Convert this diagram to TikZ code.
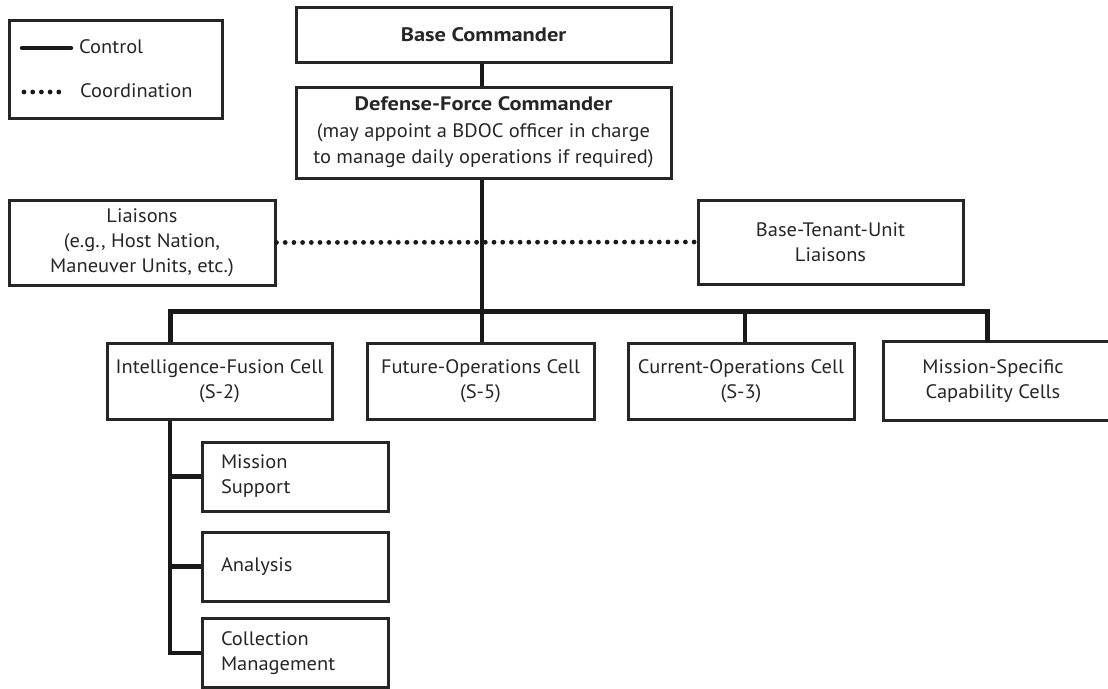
\documentclass[tikz,border=0pt]{standalone}
\usepackage{fontspec}
\setmainfont{PT Sans}[FakeStretch=1.05, BoldFeatures={FakeStretch=1.15}]
\begin{document}
\begin{tikzpicture}[x=1pt,y=-1pt,
  every node/.style={font=\fontsize{19.5}{25}\selectfont, text=black!85},
  box/.style={draw=black!85, line width=3pt, align=center, inner sep=0pt},
  ctrl/.style={draw=black!90, line width=4.2pt},
  bus/.style={draw=black!90, line width=5pt},
  coordline/.style={draw=black!90, line width=4.8pt, dash pattern=on 0pt off 8.7pt, line cap=round},
  subbox/.style={box, minimum width=186pt, minimum height=69pt, text width=148pt, align=left}
]
\useasboundingbox (0,0) rectangle (1108,688);

% legend
\node[box, minimum width=213pt, minimum height=98pt] (legend) at (115.5,69) {};
\coordinate (lc1) at (22,48); \coordinate (lc2) at (71,48);
\coordinate (ld1) at (24,92); \coordinate (ld2) at (66,92);
\draw[ctrl, line width=4.5pt, line cap=round] (lc1) -- (lc2);
\draw[coordline] (ld1) -- (ld2);
\node[anchor=west, inner sep=0pt] (lctrl) at (79,47) {Control};
\node[anchor=west, inner sep=0pt] (lcoord) at (80,91) {Coordination};

% top
\node[box, minimum width=375pt, minimum height=55pt, font=\fontsize{19.5}{25}\selectfont\bfseries] (base) at (483.5,34.5) {Base Commander};
\node[box, minimum width=375pt, minimum height=91pt, font=\fontsize{19.5}{26.5}\selectfont] (dfc) at (483.5,132.5)
  {\textbf{Defense-Force Commander}\\(may appoint a BDOC officer in charge\\to manage daily operations if required)};

\node[box, minimum width=266pt, minimum height=85pt] (liaisons) at (142,242.5)
  {Liaisons\\(e.g., Host Nation,\\Maneuver Units, etc.)};
\node[box, minimum width=265pt, minimum height=84pt] (btu) at (830.5,242)
  {Base-Tenant-Unit\\Liaisons};

% cells
\node[box, minimum width=225pt, minimum height=76pt] (intel) at (219.5,381) {Intelligence-Fusion Cell\\(S-2)};
\node[box, minimum width=227pt, minimum height=76pt] (future) at (480.5,381) {Future-Operations Cell\\(S-5)};
\node[box, minimum width=226pt, minimum height=76pt] (current) at (741,381) {Current-Operations Cell\\(S-3)};
\node[box, draw=none, minimum width=216pt, minimum height=76pt] (mission) at (993,381) {Mission-Specific\\Capability Cells};
\draw[box] (mission.north east) ++(30,0) -| (mission.south west) -- ++(250,0);

% sub cells
\node[subbox] (support) at (295,476.5) {Mission\\Support};
\node[subbox] (analysis) at (295,566.5) {Analysis};
\node[subbox] (collection) at (295,653) {Collection\\Management};

% connectors
\coordinate (d1) at (170,311);
\coordinate (d2) at (482,311);
\coordinate (d3) at (745,311);
\coordinate (d4) at (987,311);

\draw[ctrl] (base.south -| d2) -- (dfc.north -| d2);
\draw[coordline] (liaisons.east) -- (btu.west);
\draw[ctrl] (dfc.south -| d2) -- (future.north -| d2);
\draw[bus] (intel.north -| d1) -- (d1) -- (d4) -- (mission.north -| d4);
\draw[ctrl] (d3) -- (current.north -| d3);

\draw[ctrl, line width=4.5pt] (intel.south -| d1) |- (collection.west);
\draw[ctrl, line width=4.5pt] (d1 |- support.west) -- (support.west);
\draw[ctrl, line width=4.5pt] (d1 |- analysis.west) -- (analysis.west);
\end{tikzpicture}
\end{document}
